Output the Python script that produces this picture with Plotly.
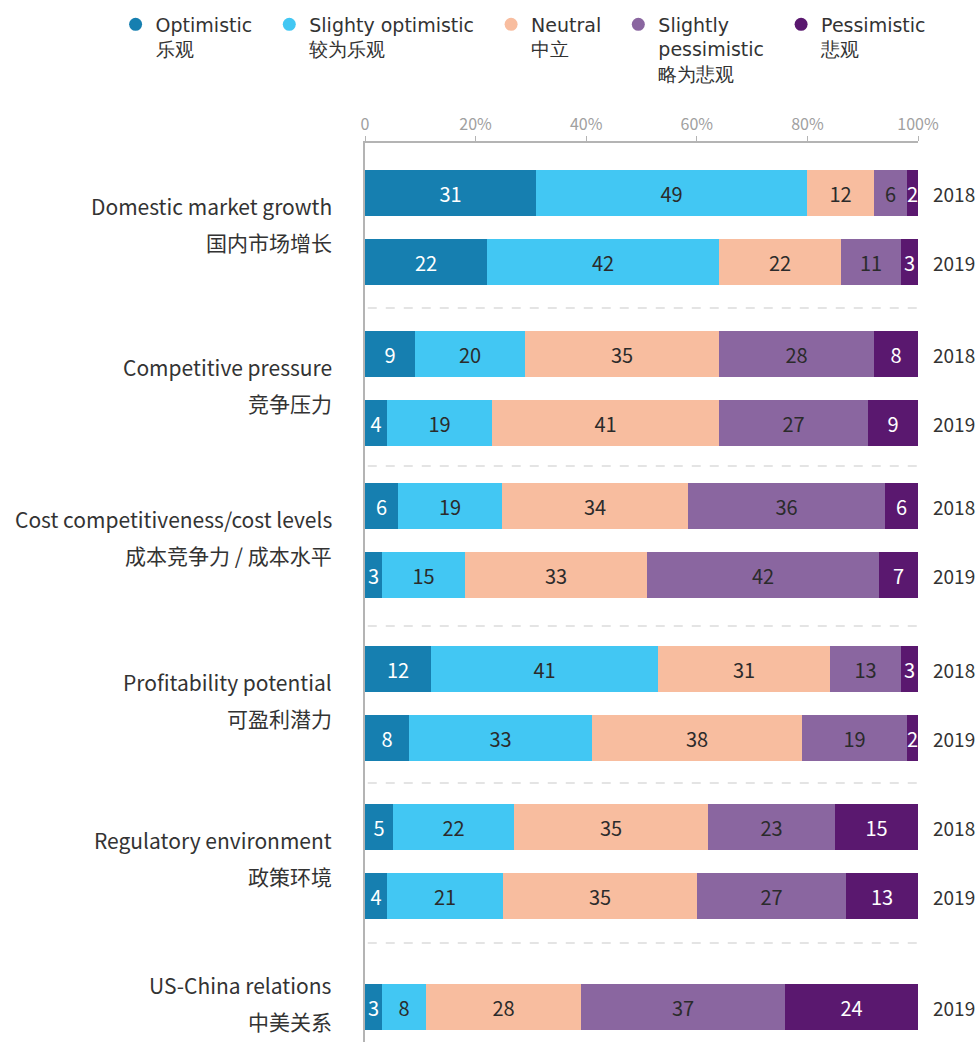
import plotly.graph_objects as go

# ---------------- data ----------------
categories_en = ["Domestic market growth", "Competitive pressure",
                 "Cost competitiveness/cost levels", "Profitability potential",
                 "Regulatory environment", "US-China relations"]
categories_zh = ["国内市场增长", "竞争压力", "成本竞争力 / 成本水平",
                 "可盈利潜力", "政策环境", "中美关系"]
years = [["2018", "2019"], ["2018", "2019"], ["2018", "2019"],
         ["2018", "2019"], ["2018", "2019"], ["2019"]]

series_en = ["Optimistic", "Slighty optimistic", "Neutral",
             "Slightly<br>pessimistic", "Pessimistic"]
series_zh = ["乐观", "较为乐观", "中立", "略为悲观", "悲观"]

optimistic        = [31, 22, 9, 4, 6, 3, 12, 8, 5, 4, 3]
slightly_optim    = [49, 42, 20, 19, 19, 15, 41, 33, 22, 21, 8]
neutral           = [12, 22, 35, 41, 34, 33, 31, 38, 35, 35, 28]
slightly_pessim   = [6, 11, 28, 27, 36, 42, 13, 19, 23, 27, 37]
pessimistic       = [2, 3, 8, 9, 6, 7, 3, 2, 15, 13, 24]

tick_vals = [0, 20, 40, 60, 80, 100]
tick_text = ["0", "20%", "40%", "60%", "80%", "100%"]

# ---------------- styling / layout ----------------
colors = ["#167fb0", "#42c7f3", "#f8bd9f", "#8a66a0", "#5a186f"]
text_colors = ["white", "#2b2b2b", "#2b2b2b", "#2b2b2b", "white"]
LATIN_CJK = "Noto Sans CJK SC, Source Sans Pro, sans-serif"
LEGEND_FONT = "DejaVu Sans, Verdana, sans-serif"
PAD = "\u00a0\u00a0"

# vertical layout (plot units = pixels)
group_start = [50, 211, 363, 526, 684, 864]
row_step = 69
bar_thick = 46
sep_pos = [165, 323, 483, 640, 800]

row_y = []
for g, yrs in enumerate(years):
    for i, _ in enumerate(yrs):
        row_y.append(group_start[g] + i * row_step)

all_series = [optimistic, slightly_optim, neutral, slightly_pessim, pessimistic]
totals = [sum(s[r] for s in all_series) for r in range(len(row_y))]

fig = go.Figure()
for k, vals in enumerate(all_series):
    xs = [v / t * 100 for v, t in zip(vals, totals)]
    fig.add_trace(go.Bar(
        x=xs, y=row_y, orientation="h", width=bar_thick,
        marker=dict(color=colors[k], line=dict(width=0)),
        text=[str(v) for v in vals], textposition="inside",
        insidetextanchor="middle", textangle=0,
        textfont=dict(family=LATIN_CJK, size=20, color=text_colors[k]),
        showlegend=False, hoverinfo="skip"))

# legend entries (circle markers)
for k in range(5):
    en_lines = series_en[k].split("<br>")
    longest = max(range(len(en_lines)), key=lambda j: len(en_lines[j]))
    en_lines[longest] = en_lines[longest] + PAD
    fig.add_trace(go.Scatter(
        x=[None], y=[None], mode="markers",
        marker=dict(symbol="circle", size=13, color=colors[k]),
        name="<br>".join(en_lines) + "<br>" + series_zh[k]))

annotations = []
for g in range(len(categories_en)):
    ys = [group_start[g] + i * row_step for i in range(len(years[g]))]
    cy = sum(ys) / len(ys)
    annotations.append(dict(x=0, xref="paper", y=cy - 22, yref="y",
                            text=categories_en[g], showarrow=False,
                            xanchor="right", xshift=-31,
                            font=dict(family=LATIN_CJK, size=21, color="#333")))
    annotations.append(dict(x=0, xref="paper", y=cy + 14, yref="y",
                            text=categories_zh[g], showarrow=False,
                            xanchor="right", xshift=-31,
                            font=dict(family=LATIN_CJK, size=21, color="#333")))
    for i, yr in enumerate(years[g]):
        annotations.append(dict(x=1, xref="paper", y=ys[i], yref="y",
                                text=yr, showarrow=False, xanchor="left",
                                xshift=13,
                                font=dict(family=LATIN_CJK, size=19, color="#333")))

shapes = []
for s in sep_pos:
    shapes.append(dict(type="line", xref="x", yref="y", x0=0.5, x1=100,
                       y0=s, y1=s, line=dict(color="#dcdcdc", width=1.3, dash="dash")))

fig.update_layout(
    width=978, height=1042,
    margin=dict(l=365, r=60, t=143, b=0, pad=0),
    paper_bgcolor="white", plot_bgcolor="white",
    barmode="stack", bargap=0,
    uniformtext=dict(minsize=20, mode="show"),
    xaxis=dict(range=[0, 100], side="top", tickvals=tick_vals, ticktext=tick_text,
               showgrid=False, zeroline=False, showline=True, linecolor="#b4b4b4",
               linewidth=1.5, ticks="outside", ticklen=5, tickcolor="#b4b4b4",
               tickfont=dict(family=LATIN_CJK, size=16, color="#a0a0a0"),
               fixedrange=True),
    yaxis=dict(range=[899, 0], showticklabels=False, showgrid=False,
               zeroline=False, showline=True, linecolor="#b4b4b4", linewidth=2,
               ticks="", fixedrange=True),
    legend=dict(orientation="h", x=-0.451, xanchor="left", y=1.153, yanchor="top",
                valign="top", traceorder="normal",
                font=dict(family=LEGEND_FONT, size=19, color="#333"),
                itemwidth=30, tracegroupgap=0, bgcolor="rgba(0,0,0,0)"),
    annotations=annotations, shapes=shapes,
)

fig.write_html("out.html")
